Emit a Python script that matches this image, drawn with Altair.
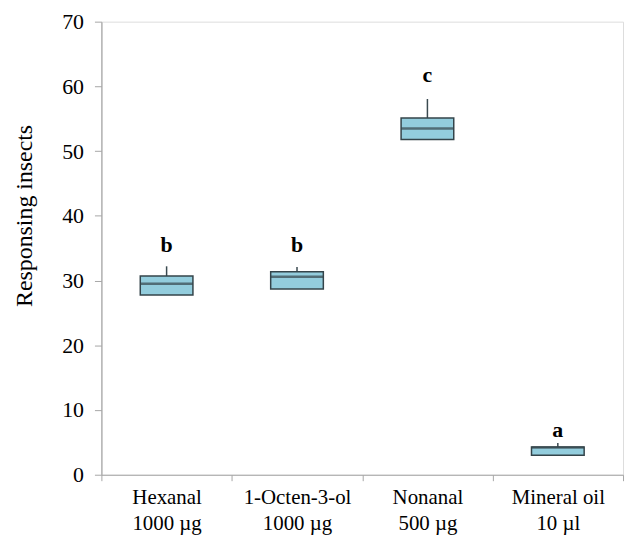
import altair as alt
import pandas as pd

categories = ["Hexanal|1000 µg", "1-Octen-3-ol|1000 µg", "Nonanal|500 µg", "Mineral oil|10 µl"]
lower = [27.75, 28.7, 51.8, 3.0]
q1 = [27.75, 28.7, 51.8, 3.0]
median = [29.5, 30.6, 53.5, 4.2]
q3 = [30.7, 31.35, 55.1, 4.3]
upper = [32.2, 32.1, 58.05, 4.9]
letters = ["b", "b", "c", "a"]
letter_y = [34.4, 34.4, 60.7, 5.9]

df = pd.DataFrame({
    "cat": categories, "lower": lower, "q1": q1, "median": median,
    "q3": q3, "upper": upper, "letter": letters, "ly": letter_y,
})

x = alt.X("cat:N", sort=categories, title=None,
          scale=alt.Scale(paddingInner=0, paddingOuter=0),
          axis=alt.Axis(labelExpr="datum.value ? split(datum.value, '|') : ''", labelAngle=0,
                        labelFont="Liberation Serif", labelFontSize=21,
                        labelColor="black", labelLineHeight=26, labelPadding=6,
                        tickBand="extent", tickSize=6, tickColor="#a6a6a6",
                        domainColor="#a6a6a6", domainWidth=1.2, labelBaseline="top"))
yscale = alt.Scale(domain=[0, 70])
base = alt.Chart(df)

whisker = base.mark_rule(color="#3a4a50", strokeWidth=1.5).encode(
    x=x,
    y=alt.Y("q3:Q", scale=yscale, title="Responsing insects",
            axis=alt.Axis(values=list(range(0, 71, 10)), grid=False,
                          labelFont="Liberation Serif", labelFontSize=22,
                          labelColor="black", labelPadding=11,
                          titleFont="Liberation Serif", titleFontSize=24,
                          titleFontWeight="normal", titleColor="black",
                          titleX=-77, titleY=195, titleAlign="center",
                          titleBaseline="middle", titleAngle=270,
                          tickSize=7, tickColor="#a6a6a6",
                          domainColor="#a6a6a6", domainWidth=1.2)),
    y2="upper:Q",
)
box = base.mark_bar(size=53, color="#93cddd", stroke="#34444a", strokeWidth=1.5).encode(
    x=x, y=alt.Y("q1:Q", scale=yscale), y2="q3:Q",
)
med = base.mark_tick(size=53, thickness=2.5, color="#34444a").encode(
    x=x, y=alt.Y("median:Q", scale=yscale),
)
text = base.mark_text(font="Liberation Serif", fontSize=22, fontWeight="bold",
                      color="black", baseline="alphabetic").encode(
    x=x, y=alt.Y("ly:Q", scale=yscale), text="letter:N",
)

chart = alt.layer(whisker, box, med, text).properties(
    width=525, height=456,
    autosize=alt.AutoSizeParams(type="none"),
    padding={"left": 94, "top": 12, "right": 5, "bottom": 70},
).configure_view(stroke=None).configure(background="white")

chart.save("out.html", embed_options={"renderer": "svg", "actions": False})
